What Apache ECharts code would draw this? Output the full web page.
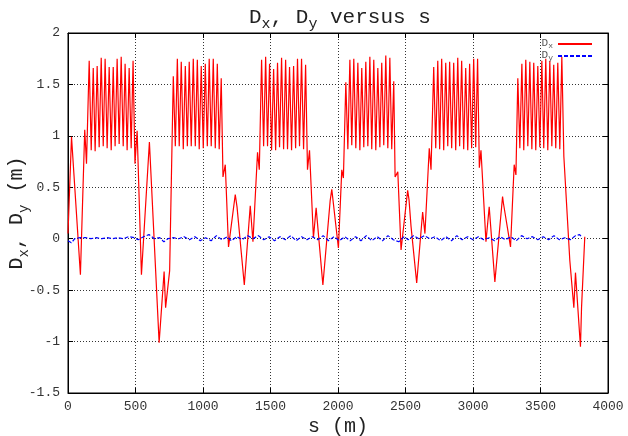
<!DOCTYPE html>
<html>
<head>
<meta charset="utf-8">
<script src="https://cdn.jsdelivr.net/npm/echarts@6/dist/echarts.min.js"></script>
<style>html,body{margin:0;padding:0;background:#fff}#c{width:628px;height:436px}</style>
</head>
<body>
<div id="c"></div>
<script>
// s positions (m) and horizontal dispersion Dx (m)
var sDx = [0,26,92,124,137,
157,172,187,201,216,231,246,261,275,290,305,320,335,349,364,379,394,409,423,438,453,468,482,
496,512,544,603,675,712,723,753,
780,795,810,824,839,854,869,884,898,913,928,943,958,972,987,1002,1017,1032,1046,1061,1076,1091,1106,1120,1135,
1148,1165,1189,1239,1252,1306,1350,1370,1404,1417,
1434,1449,1464,1478,1493,1508,1523,1538,1552,1567,1582,1597,1612,1626,1641,1656,1671,1686,1700,1715,1730,1745,1760,
1774,1789,1818,1838,1888,1942,1954,2003,2028,2040,
2058,2073,2088,2102,2117,2132,2147,2162,2176,2191,2206,2221,2236,2250,2265,2280,2295,2310,2324,2339,2354,2369,2384,2398,2413,
2423,2443,2467,2516,2526,2541,2583,2627,2644,2676,2689,
2709,2724,2739,2753,2768,2783,2798,2813,2827,2842,2857,2872,2887,2901,2916,2931,2946,2961,2975,2990,3005,3020,3034,
3047,3059,3096,3120,3162,3219,3226,3278,3305,3318,
3332,3347,3362,3376,3391,3406,3421,3436,3450,3465,3480,3495,3510,3524,3539,3554,3569,3584,3598,3613,3628,3643,3658,
3673,3717,3747,3759,3796,3804,3828];
var dx = [0.05,0.99,-0.35,1.06,0.73,
1.73,0.86,1.66,0.85,1.68,0.89,1.76,0.90,1.75,0.88,1.67,0.86,1.67,0.90,1.75,0.92,1.77,0.90,1.70,0.86,1.66,0.88,1.73,
0.73,1.05,-0.35,0.94,-1.01,-0.32,-0.67,-0.31,
1.58,0.90,1.75,0.90,1.72,0.87,1.68,0.90,1.72,0.90,1.75,0.90,1.74,0.87,1.68,0.88,1.70,0.90,1.75,0.90,1.75,0.88,1.70,0.87,1.56,
0.60,0.72,-0.08,0.43,0.31,-0.45,0.32,-0.03,0.84,0.67,
1.74,0.90,1.77,0.90,1.70,0.86,1.65,0.86,1.71,0.89,1.76,0.87,1.74,0.87,1.67,0.86,1.68,0.88,1.75,0.90,1.75,0.87,1.69,
0.67,0.86,0.01,0.30,-0.45,0.37,0.48,-0.09,0.67,0.59,
1.52,0.87,1.74,0.91,1.75,0.88,1.71,0.86,1.66,0.89,1.72,0.90,1.77,0.87,1.74,0.86,1.66,0.89,1.71,0.91,1.78,0.88,1.76,0.87,1.53,
0.60,0.65,-0.11,0.47,0.38,0.12,-0.43,0.26,0.05,0.88,0.67,
1.67,0.88,1.73,0.87,1.75,0.86,1.71,0.90,1.72,0.88,1.71,0.86,1.76,0.90,1.73,0.87,1.66,0.86,1.70,0.88,1.75,0.89,1.75,
0.69,0.86,-0.03,0.31,-0.42,0.41,0.34,-0.08,0.72,0.62,
1.56,0.88,1.70,0.86,1.74,0.90,1.72,0.87,1.71,0.86,1.68,0.89,1.73,0.88,1.75,0.86,1.73,0.90,1.69,0.88,1.71,0.87,1.77,
0.80,-0.21,-0.67,-0.33,-1.05,-0.67,0.02];

// s positions (m) and vertical dispersion Dy (m)
var sDy = [0,25,50,90,130,170,210,250,290,330,370,410,450,490,520,560,600,640,680,710,740,780,820,860,900,940,980,1020,1060,1100,1140,1180,1210,1250,1290,1330,1370,1410,1450,1490,1530,1570,1610,1650,1690,1730,1770,1810,1850,1890,1930,1970,2010,2050,2090,2130,2170,2210,2250,2290,2330,2370,2410,2450,2490,2520,2560,2600,2640,2680,2720,2760,2800,2840,2880,2920,2960,3000,3040,3080,3120,3160,3200,3240,3280,3320,3360,3400,3440,3480,3520,3560,3600,3640,3680,3720,3760,3790,3810];
var dy = [-0.02,-0.04,0.00,0.01,0.01,0.00,0.01,0.00,0.01,0.00,0.01,0.00,0.02,0.01,-0.01,0.02,0.04,0.00,0.01,-0.03,0.00,0.01,0.00,0.02,-0.01,0.02,-0.02,0.01,-0.02,0.03,-0.01,0.02,-0.02,0.02,-0.01,0.03,0.00,0.03,-0.01,0.02,-0.02,0.02,-0.01,0.03,-0.02,0.02,-0.01,0.02,-0.01,0.03,-0.02,0.02,-0.02,0.02,-0.02,0.02,-0.02,0.03,-0.02,0.02,-0.02,0.03,-0.01,-0.03,0.02,-0.01,0.03,0.00,0.03,0.00,0.02,-0.02,0.02,-0.02,0.03,-0.01,0.02,-0.01,0.02,-0.01,0.01,-0.02,0.02,-0.01,0.02,-0.02,0.03,0.00,0.02,-0.01,0.02,-0.01,0.03,-0.01,0.01,-0.01,0.03,0.04,0.01];

var sMin = 0, sMax = 4000, sStep = 500;
var dMin = -1.5, dMax = 2, dStep = 0.5;

var FONT = '"Liberation Mono", "DejaVu Sans Mono", monospace';
var chart = echarts.init(document.getElementById('c'));

function pairs(xs, ys) { return xs.map(function (x, i) { return [x, ys[i]]; }); }

function subStyle(fa, fb) {
  return {
    a: { fontFamily: FONT, fontSize: fa, fontWeight: 'normal', color: '#222', lineHeight: fa + 4, verticalAlign: 'top' },
    b: { fontFamily: FONT, fontSize: fb, fontWeight: 'normal', color: '#222', lineHeight: 10, verticalAlign: 'bottom' }
  };
}
var subSmall = {
  a: { fontFamily: FONT, fontSize: 11, color: '#555', lineHeight: 12, verticalAlign: 'top' },
  b: { fontFamily: FONT, fontSize: 8, color: '#555', lineHeight: 6, verticalAlign: 'bottom' }
};

var gridLine = { show: true, lineStyle: { color: '#000', type: [1, 2], width: 1, opacity: 0.8 } };
var tickLabel = { fontFamily: FONT, fontSize: 13, color: '#333', formatter: function (v) { return String(v); } };

chart.setOption({
  animation: false,
  backgroundColor: '#fff',
  title: {
    text: '{a|D}{b|x}{a|, D}{b|y}{a| versus s}',
    left: 244, top: 2,
    textStyle: { rich: subStyle(21, 15), fontWeight: 'normal' }
  },
  legend: {
    orient: 'vertical', right: 35, top: 38, padding: 0,
    align: 'right', itemWidth: 34, itemHeight: 8, itemGap: 0,
    itemStyle: { opacity: 0 },
    formatter: function (n) { return n === 'Dx' ? '{a|D}{b|x}' : '{a|D}{b|y}'; },
    textStyle: { rich: subSmall }
  },
  grid: { left: 68, right: 20, top: 33, bottom: 43, show: true, borderColor: '#000', borderWidth: 1, outerBoundsMode: 'none', containLabel: false },
  xAxis: [{
    type: 'value', min: sMin, max: sMax, interval: sStep,
    name: '{a|s (m)}', nameLocation: 'middle', nameGap: 24, nameMoveOverlap: false,
    nameTextStyle: { rich: subStyle(20, 14) },
    axisLine: { show: true, onZero: false, lineStyle: { color: '#000', width: 1 } },
    axisTick: { show: true, inside: true, length: 5, lineStyle: { color: '#000' } },
    axisLabel: Object.assign({ margin: 7 }, tickLabel),
    splitLine: gridLine
  }, {
    type: 'value', min: sMin, max: sMax, interval: sStep, position: 'top',
    axisLine: { show: true, onZero: false, lineStyle: { color: '#000', width: 1 } },
    axisTick: { show: true, inside: true, length: 5, lineStyle: { color: '#000' } },
    axisLabel: { show: false }, splitLine: { show: false }
  }],
  yAxis: [{
    type: 'value', min: dMin, max: dMax, interval: dStep,
    name: '{a|D}{b|x}{a|, D}{b|y}{a| (m)}', nameLocation: 'middle', nameGap: 37, nameMoveOverlap: false,
    nameTextStyle: { rich: subStyle(20, 14) },
    axisLine: { show: true, onZero: false, lineStyle: { color: '#000', width: 1 } },
    axisTick: { show: true, inside: true, length: 5, lineStyle: { color: '#000' } },
    axisLabel: Object.assign({ margin: 8 }, tickLabel),
    splitLine: gridLine
  }, {
    type: 'value', min: dMin, max: dMax, interval: dStep, position: 'right',
    axisLine: { show: true, onZero: false, lineStyle: { color: '#000', width: 1 } },
    axisTick: { show: true, inside: true, length: 5, lineStyle: { color: '#000' } },
    axisLabel: { show: false }, splitLine: { show: false }
  }],
  series: [{
    name: 'Dx', type: 'line', data: pairs(sDx, dx), symbol: 'none',
    xAxisIndex: 0, yAxisIndex: 0,
    lineStyle: { color: '#ff0000', width: 1.2 }, itemStyle: { color: '#ff0000' }
  }, {
    name: 'Dy', type: 'line', data: pairs(sDy, dy), symbol: 'none',
    xAxisIndex: 0, yAxisIndex: 0,
    lineStyle: { color: '#0000ff', width: 1.2, type: [4, 2] }, itemStyle: { color: '#0000ff' }
  }]
});
</script>
</body>
</html>
